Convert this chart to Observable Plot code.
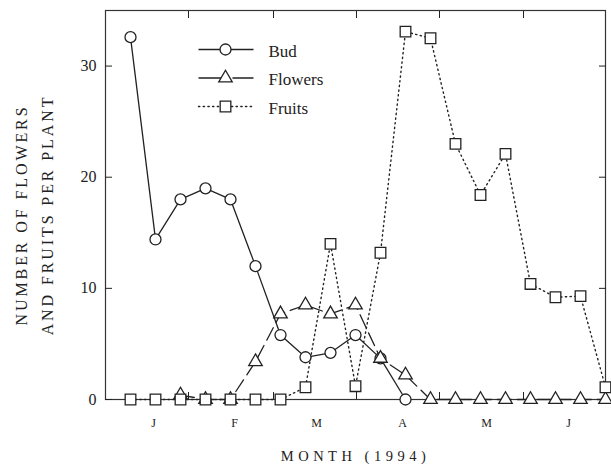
<!DOCTYPE html>
<html>
<head>
<meta charset="utf-8">
<script src="https://cdn.jsdelivr.net/npm/d3@7"></script>
<script src="https://cdn.jsdelivr.net/npm/@observablehq/plot@0.6"></script>
<style>
  html, body { margin: 0; padding: 0; background: #fff; }
</style>
</head>
<body>
<div id="chart"></div>
<script>
// Series values, one per sample (x = sample index)
const bud = [32.6, 14.4, 18.0, 19.0, 18.0, 12.0, 5.8, 3.8, 4.2, 5.8, 3.7, 0, null, null, null, null, null, null, null, null];
const flowers = [null, null, 0.4, 0, 0, 3.4, 7.7, 8.5, 7.7, 8.5, 3.7, 2.2, 0, 0, 0, 0, 0, 0, 0, 0];
const fruits = [0, 0, 0, 0, 0, 0, 0, 1.1, 14.0, 1.2, 13.2, 33.1, 32.5, 23.0, 18.4, 22.1, 10.4, 9.2, 9.3, 1.1];

// Axis ticks / labels
const yTicks = [0, 10, 20, 30];
const monthLabels = ["J", "F", "M", "A", "M", "J"];
const monthLabelPos = [0.92, 4.16, 7.44, 10.88, 14.24, 17.52];
const monthTickPos = [2.32, 5.72, 9.04, 12.36, 15.72];

const seriesNames = ["Bud", "Flowers", "Fruits"];
const xTitle = "MONTH (1994)";
const yTitle = "NUMBER OF FLOWERS\nAND FRUITS PER PLANT";

const ink = "#222";
const styles = {
  Bud: {symbol: "circle", r: 5.5, dash: null, legendDash: null},
  Flowers: {symbol: "triangle", r: 5, dash: "14,6", legendDash: "27,7,21"},
  Fruits: {symbol: "square", r: 6, dash: "1.3,3.4", legendDash: "1.3,3.4"}
};

const months = monthLabels.map((m, i) => ({m, pos: monthLabelPos[i]}));
const hShape = {draw(ctx, l) { ctx.moveTo(0, 0); ctx.lineTo(0, -l); }};
const idx = (d, i) => i;

const legendMarks = seriesNames.flatMap((name, i) => {
  const s = styles[name];
  const dy = 39 + 28.5 * i;
  return [
    Plot.vector([name], {frameAnchor: "top-left", dx: 93, dy, rotate: 90, length: 55, anchor: "start",
      shape: hShape, stroke: ink, strokeWidth: name === "Fruits" ? 1.4 : 1.3, strokeDasharray: s.legendDash, strokeLinecap: name === "Fruits" ? "round" : null}),
    Plot.dot([name], {frameAnchor: "top-left", dx: 120, dy, symbol: s.symbol, r: s.r, fill: "white", stroke: ink, strokeWidth: 1.3}),
    Plot.text([name], {frameAnchor: "top-left", dx: 163, dy: dy + 2, text: d => d, textAnchor: "start", lineAnchor: "middle", fontSize: 17, fill: ink})
  ];
});

const chart = Plot.plot({
  width: 611,
  height: 473,
  marginLeft: 105,
  marginRight: 6,
  marginTop: 10,
  marginBottom: 74,
  style: {fontFamily: "'Liberation Serif', 'DejaVu Serif', serif", background: "white", color: ink},
  x: {domain: [-1, 19]},
  y: {domain: [0, 35]},
  marks: [
    Plot.frame({stroke: "#333", strokeWidth: 1.2}),
    Plot.axisY(yTicks, {anchor: "left", tickSize: -7, tickPadding: 16, fontSize: 16, label: null, color: ink}),
    Plot.axisY(yTicks, {anchor: "right", tickSize: -7, tickFormat: () => "", label: null, color: ink}),
    Plot.axisX(monthTickPos, {anchor: "bottom", tickSize: -7, tickFormat: () => "", label: null, color: ink}),
    Plot.axisX(monthTickPos, {anchor: "top", tickSize: -7, tickFormat: () => "", label: null, color: ink}),
    Plot.text(months, {x: "pos", text: "m", frameAnchor: "bottom", dy: 27, fontSize: 12, fill: ink}),
    Plot.text([xTitle], {frameAnchor: "bottom", dy: 61, fontSize: 14.5, fill: ink, textAnchor: "middle"}),
    Plot.text([yTitle], {frameAnchor: "left", dx: -74, dy: 10, rotate: -90, textAnchor: "middle", lineAnchor: "middle", fontSize: 16, lineHeight: 1.625, fill: ink}),
    Plot.lineY(fruits, {x: idx, stroke: ink, strokeWidth: 1.4, strokeDasharray: styles.Fruits.dash, strokeLinecap: "round"}),
    Plot.lineY(bud, {x: idx, stroke: ink, strokeWidth: 1.3}),
    Plot.lineY(flowers, {x: idx, stroke: ink, strokeWidth: 1.3, strokeDasharray: styles.Flowers.dash}),
    Plot.dotY(bud, {x: idx, symbol: "circle", r: styles.Bud.r, fill: "white", stroke: ink, strokeWidth: 1.3}),
    Plot.dotY(flowers, {x: idx, symbol: "triangle", r: styles.Flowers.r, fill: "white", stroke: ink, strokeWidth: 1.3}),
    Plot.dotY(fruits, {x: idx, symbol: "square", r: styles.Fruits.r, fill: "white", stroke: ink, strokeWidth: 1.3}),
    ...legendMarks
  ]
});

// letter spacing for the small-caps style titles
chart.querySelectorAll("text").forEach(t => {
  const s = t.textContent;
  if (s.startsWith("MONTH")) t.style.letterSpacing = "4.5px";
  if (s.includes("NUMBER") || s.includes("AND FRUITS")) t.style.letterSpacing = "2.9px";
});
document.getElementById("chart").appendChild(chart);
</script>
</body>
</html>
